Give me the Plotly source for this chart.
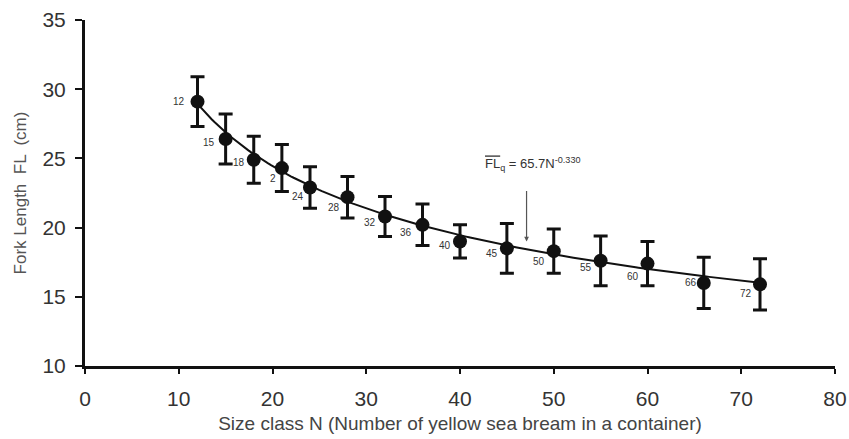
import numpy as np
import plotly.graph_objects as go

# Data
size_class = [12, 15, 18, 21, 24, 28, 32, 36, 40, 45, 50, 55, 60, 66, 72]
fork_length = [29.1, 26.4, 24.9, 24.3, 22.9, 22.2, 20.8, 20.2, 19.0, 18.5, 18.3, 17.6, 17.4, 16.0, 15.9]
fl_error = [1.8, 1.8, 1.7, 1.7, 1.5, 1.5, 1.45, 1.5, 1.2, 1.8, 1.6, 1.8, 1.6, 1.85, 1.85]
point_labels = ["12", "15", "18", "2", "24", "28", "32", "36", "40", "45", "50", "55", "60", "66", "72"]

# Fitted power curve FL = a * N^b (coefficients from the chart)
fit_a = 65.7
fit_b = -0.330
fit_range = [12, 72]

x_ticks = [0, 10, 20, 30, 40, 50, 60, 70, 80]
y_ticks = [10, 15, 20, 25, 30, 35]

# label pixel offsets (style only)
label_offsets = [(-19, 0), (-17, -3), (-15, -3), (-9, -10), (-12, -9), (-14, -10), (-15, -6),
                 (-17, -8), (-15, -4), (-15, -5), (-15, -10), (-15, -7), (-15, -13), (-13, 0), (-14, -9)]

fig = go.Figure()

fit_x = np.linspace(fit_range[0], fit_range[1], 200)
fit_y = fit_a * fit_x ** fit_b
fig.add_trace(go.Scatter(x=fit_x, y=fit_y, mode="lines",
                         line=dict(color="#111111", width=2), hoverinfo="skip", showlegend=False))

fig.add_trace(go.Scatter(
    x=size_class, y=fork_length, mode="markers",
    marker=dict(color="#111111", size=14),
    error_y=dict(type="data", array=fl_error, visible=True, color="#111111", thickness=3, width=7),
    showlegend=False))

font_family = "Liberation Sans, Arial, sans-serif"

annotations = []
for xv, yv, lab, (dx, dy) in zip(size_class, fork_length, point_labels, label_offsets):
    annotations.append(dict(x=xv, y=yv, text=lab, showarrow=False, xshift=dx, yshift=dy,
                            font=dict(size=10, color="#333333", family=font_family)))

# arrow
annotations.append(dict(x=47.1, y=19.0, ax=0, ay=-52, text="", showarrow=True,
                        arrowhead=2, arrowsize=0.8, arrowwidth=1.2, arrowcolor="#555555"))
# equation
annotations.append(dict(x=47.1, y=19.0,
                        text="<span style=\"text-decoration:overline\">FL</span><sub>q</sub> = 65.7N<sup>-0.330</sup>",
                        showarrow=False, xshift=6, yshift=77,
                        font=dict(size=13, color="#333333", family=font_family)))

fig.update_layout(
    width=849, height=439,
    margin=dict(l=85, r=14, t=20, b=73),
    plot_bgcolor="white", paper_bgcolor="white",
    annotations=annotations,
    font=dict(family=font_family),
)
fig.update_xaxes(range=[0, 80], tickvals=x_ticks, showgrid=False, zeroline=False,
                 showline=True, linecolor="#111111", linewidth=3, automargin=False,
                 ticks="outside", ticklen=5, tickwidth=2, tickcolor="#111111",
                 ticklabelstandoff=7,
                 tickfont=dict(size=21, color="#333333"),
                 title=dict(text="Size class N (Number of yellow sea bream in a container)",
                            font=dict(size=19, color="#444444"), standoff=8))
fig.update_yaxes(range=[10, 35], tickvals=y_ticks, showgrid=False, zeroline=False,
                 showline=True, linecolor="#111111", linewidth=3, automargin=False,
                 ticks="outside", ticklen=7, tickwidth=2, tickcolor="#111111",
                 ticklabelstandoff=5,
                 tickfont=dict(size=21, color="#333333"),
                 title=dict(text="Fork Length  FL  (cm)", font=dict(size=17, color="#555555"), standoff=12))

fig.write_html("out.html", config={"displayModeBar": False},
               post_script="document.body.style.margin='0';")
